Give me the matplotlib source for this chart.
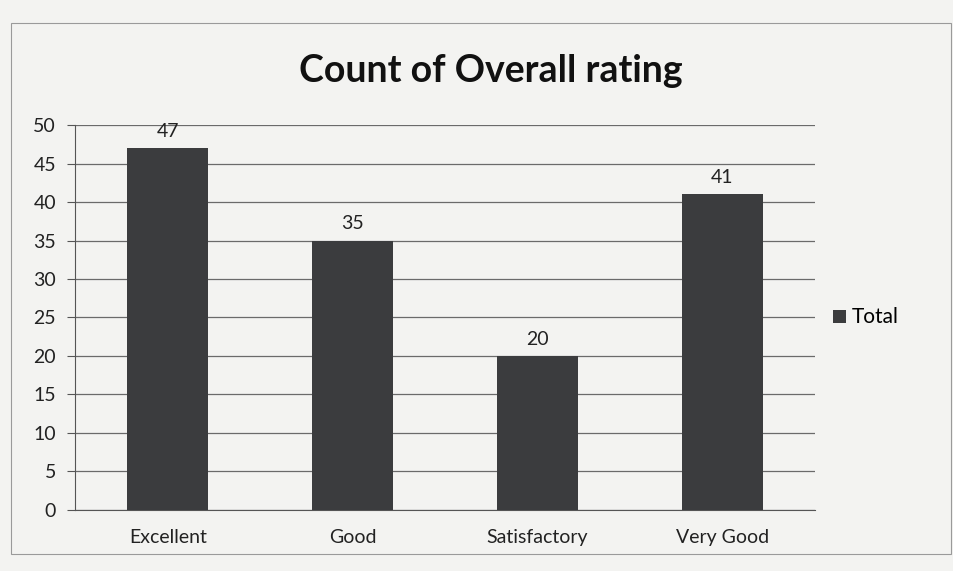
import matplotlib
matplotlib.use("Agg")
import matplotlib.pyplot as plt
from matplotlib.patches import Rectangle

plt.rcParams['font.family'] = ['Lato', 'DejaVu Sans']

categories = ["Excellent", "Good", "Satisfactory", "Very Good"]
totals = [47, 35, 20, 41]
y_ticks = [0, 5, 10, 15, 20, 25, 30, 35, 40, 45, 50]

bar_color = "#3b3c3e"
bg = "#f3f3f1"

fig = plt.figure(figsize=(9.54, 5.71), dpi=100, facecolor=bg)
ax = fig.add_axes([0.079, 0.107, 0.775, 0.674], facecolor=bg)

# outer chart frame
fig.patches.append(Rectangle((0.012, 0.03), 0.985, 0.93, transform=fig.transFigure,
                             fill=False, edgecolor="#9a9a9a", linewidth=0.8))

x = range(len(categories))
bars = ax.bar(x, totals, width=0.44, color=bar_color, label="Total", zorder=3)
for b, v in zip(bars, totals):
    ax.annotate(str(v), (b.get_x() + b.get_width() / 2, v), textcoords="offset points",
                xytext=(0, 6), ha="center", va="bottom", fontsize=14, color="#222222")

ax.set_ylim(0, 50)
ax.set_xlim(-0.5, len(categories) - 0.5)
ax.set_yticks(y_ticks)
ax.set_xticks(list(x))
ax.set_xticklabels(categories)
ax.tick_params(axis="both", labelsize=14, colors="#222222", length=0)
ax.tick_params(axis="x", pad=14)
ax.tick_params(axis="y", length=6, color="#555555", direction="out", pad=8)
ax.grid(axis="y", color="#6a6a6a", linewidth=0.9, zorder=0)

for s in ["top", "right"]:
    ax.spines[s].set_visible(False)
ax.spines["left"].set_color("#555555")
ax.spines["bottom"].set_color("#555555")

fig.text(0.515, 0.875, "Count of Overall rating", ha="center", va="center",
         fontsize=27, fontweight="bold", color="#111111")

leg = ax.legend(loc="center left", bbox_to_anchor=(1.0, 0.5), frameon=False,
                fontsize=15, handlelength=0.6, handleheight=0.6, handletextpad=0.3)

fig.savefig("out.png", dpi=100, facecolor=bg)
